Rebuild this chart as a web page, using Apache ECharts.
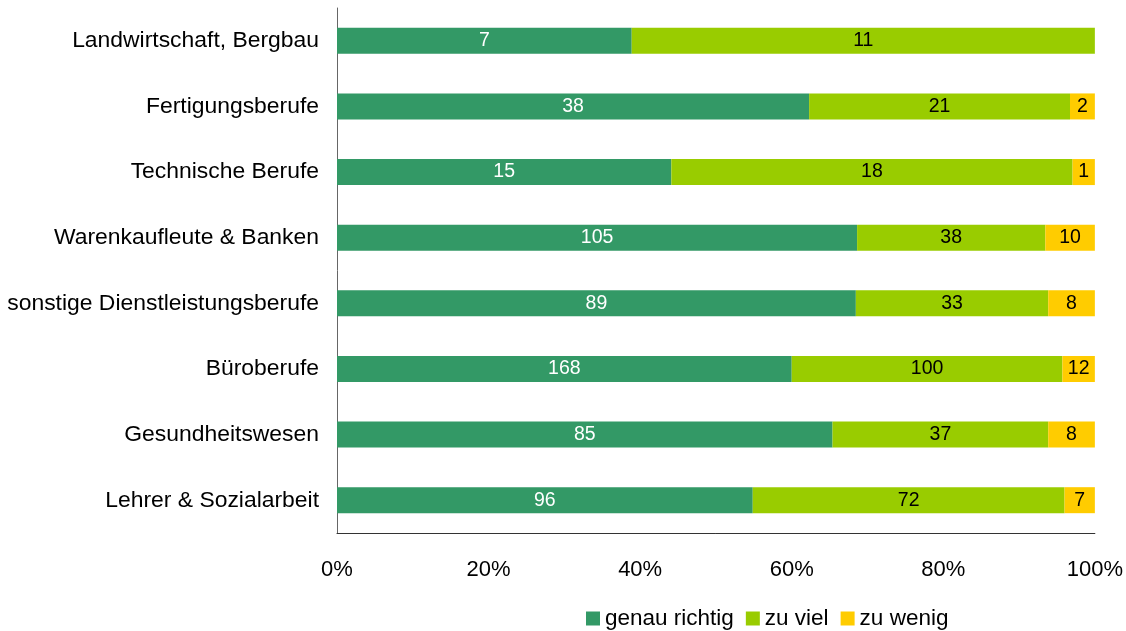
<!DOCTYPE html>
<html>
<head>
<meta charset="utf-8">
<script src="https://cdn.jsdelivr.net/npm/echarts@6/dist/echarts.min.js"></script>
<style>
    html, body { margin: 0; padding: 0; background: #fff; }
    #chart { width: 1126px; height: 631px; }
</style>
</head>
<body>
<div id="chart"></div>
<script>
    // Kategorien von oben nach unten
    var categories = ['Landwirtschaft, Bergbau', 'Fertigungsberufe', 'Technische Berufe',
        'Warenkaufleute & Banken', 'sonstige Dienstleistungsberufe', 'Büroberufe',
        'Gesundheitswesen', 'Lehrer & Sozialarbeit'];
    var genauRichtig = [7, 38, 15, 105, 89, 168, 85, 96];
    var zuViel = [11, 21, 18, 38, 33, 100, 37, 72];
    var zuWenig = [0, 2, 1, 10, 8, 12, 8, 7];
    var xTicks = [0, 20, 40, 60, 80, 100];

    var totals = categories.map(function (c, i) {
        return genauRichtig[i] + zuViel[i] + zuWenig[i];
    });

    function toPercent(arr) {
        return arr.map(function (v, i) {
            return { value: v / totals[i] * 100, raw: v };
        });
    }

    function mkSeries(name, arr, color, labelColor) {
        return {
            name: name,
            type: 'bar',
            stack: 'total',
            barWidth: 26,
            itemStyle: { color: color },
            label: {
                show: true,
                position: 'inside',
                color: labelColor,
                fontFamily: 'Liberation Sans',
                fontSize: 19.5,
                formatter: function (p) {
                    return p.data.raw ? String(p.data.raw) : '';
                }
            },
            data: toPercent(arr)
        };
    }

    var chart = echarts.init(document.getElementById('chart'));
    var option = {
        animation: false,
        textStyle: { fontFamily: 'Liberation Sans' },
        grid: { left: 337, right: 31, top: 8, bottom: 98, containLabel: false },
        legend: {
            top: 607,
            left: 586,
            padding: 0,
            itemWidth: 14,
            itemHeight: 14,
            itemGap: 12,
            icon: 'rect',
            textStyle: { fontSize: 22.5, color: '#000', fontFamily: 'Liberation Sans' },
            data: ['genau richtig', 'zu viel', 'zu wenig']
        },
        xAxis: {
            type: 'value',
            min: 0,
            max: 100,
            interval: 20,
            axisLine: { show: true, lineStyle: { color: '#333', width: 1 } },
            axisTick: { show: false },
            splitLine: { show: false },
            axisLabel: {
                fontSize: 22,
                color: '#000',
                margin: 26,
                formatter: function (v) {
                    return xTicks.indexOf(v) >= 0 ? v + '%' : '';
                }
            }
        },
        yAxis: {
            type: 'category',
            inverse: true,
            data: categories,
            axisLine: { show: true, lineStyle: { color: '#666', width: 1 } },
            axisTick: { show: false },
            axisLabel: { fontSize: 22.9, color: '#000', margin: 18, padding: [2, 0, 0, 0] }
        },
        series: [
            mkSeries('genau richtig', genauRichtig, '#339966', '#fff'),
            mkSeries('zu viel', zuViel, '#99cc00', '#000'),
            mkSeries('zu wenig', zuWenig, '#ffcc00', '#000')
        ]
    };
    chart.setOption(option);
</script>
</body>
</html>
